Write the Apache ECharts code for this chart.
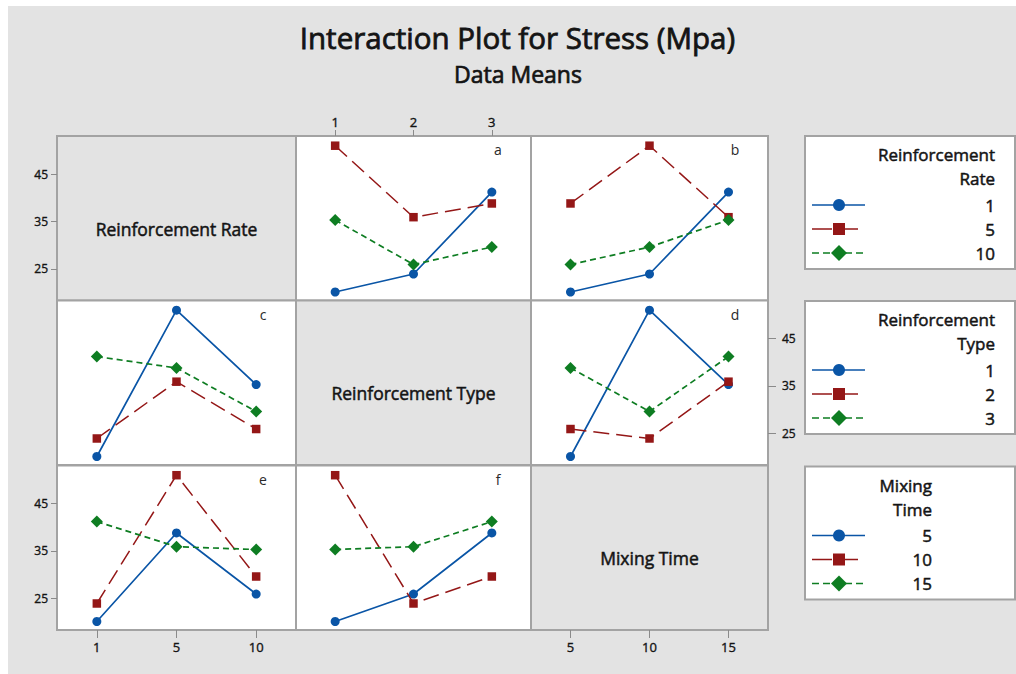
<!DOCTYPE html>
<html>
<head>
<meta charset="utf-8">
<script src="https://cdn.jsdelivr.net/npm/echarts@6/dist/echarts.min.js"></script>
<style>
  html, body { margin: 0; padding: 0; background: #ffffff; }
  #chart { width: 1016px; height: 674px; }
</style>
</head>
<body>
<div id="chart"></div>
<script>
// L9 experiment: factor levels of each run and the measured stress (MPa)
const runRate   = [1, 1, 1, 5, 5, 5, 10, 10, 10];
const runType   = [1, 2, 3, 1, 2, 3, 1, 2, 3];
const runMixing = [5, 10, 15, 10, 15, 5, 15, 5, 10];
const runStress = [20.1, 23.9, 41.2, 51.0, 35.9, 38.8, 35.3, 25.9, 29.6];

// factor levels (x categories / trace levels)
const rateLevels   = [1, 5, 10];
const typeLevels   = [1, 2, 3];
const mixingLevels = [5, 10, 15];

// y tick labels shared by every row
const yTicks = [25, 35, 45];

const FONT = '"Open Sans", "Noto Sans", sans-serif';
const INK = '#141414';
const FRAME = '#a3a3a3';
const PANEL_GRAY = '#e3e3e3';

const factors = [
  { title: 'Reinforcement Rate', legend: ['Reinforcement', 'Rate'], levels: rateLevels, runs: runRate },
  { title: 'Reinforcement Type', legend: ['Reinforcement', 'Type'], levels: typeLevels, runs: runType },
  { title: 'Mixing Time',        legend: ['Mixing', 'Time'],        levels: mixingLevels, runs: runMixing }
];

// trace styles for level 1/2/3 of the trace factor
const traceStyles = [
  { color: '#0a55a6', symbol: 'circle',  size: 9,   dash: 'solid',  width: 1.7, keyDash: null,    keyEnd: 865 },
  { color: '#941717', symbol: 'rect',    size: 8.5, dash: [16, 7],  width: 1.5, keyDash: [20, 6], keyEnd: 860 },
  { color: '#0e7d22', symbol: 'diamond', size: 12,  dash: [6, 4],   width: 1.7, keyDash: [7, 4],  keyEnd: 865 }
];

// panel matrix geometry
const colLeft = [57, 296, 531];
const colWidth = [239, 235, 237];
const rowTop = [136, 300.5, 465.5];
const rowHeight = 164.5;
const yMin = 18.3, yMax = 53.05;

const panelLetters = { '0,1': 'a', '0,2': 'b', '1,0': 'c', '1,2': 'd', '2,0': 'e', '2,1': 'f' };

// mean stress of runs at (level a of factor fa, level b of factor fb)
function cellMean(fa, a, fb, b) {
  let sum = 0, n = 0;
  for (let k = 0; k < runStress.length; k++) {
    if (fa.runs[k] === a && fb.runs[k] === b) { sum += runStress[k]; n++; }
  }
  return n ? +(sum / n).toFixed(2) : null;
}

// medium-weight text: regular face with a hairline outline in the same ink
function label(x, y, text, size, align, weight) {
  return {
    type: 'text', z: 100, x: x, y: y,
    style: {
      text: text, font: size + 'px ' + FONT, fill: INK,
      stroke: INK, lineWidth: weight,
      textAlign: align, textVerticalAlign: 'middle'
    }
  };
}

const grids = [], xAxes = [], yAxes = [], series = [], graphics = [];

for (let r = 0; r < 3; r++) {
  for (let c = 0; c < 3; c++) {
    const i = r * 3 + c;
    const diag = r === c;
    grids.push({
      left: colLeft[c], top: rowTop[r], width: colWidth[c], height: rowHeight,
      show: true, backgroundColor: diag ? PANEL_GRAY : '#ffffff',
      borderColor: FRAME, borderWidth: 2
    });

    const xTop = r === 0 && c === 1;
    const showX = xTop || (r === 2 && c === 0) || (r === 2 && c === 2);
    xAxes.push({
      gridIndex: i, type: 'category', boundaryGap: true,
      data: factors[c].levels.map(String),
      position: xTop ? 'top' : 'bottom',
      axisLine: { show: false },
      axisTick: { show: showX, alignWithLabel: true, length: xTop ? 6 : 8, lineStyle: { color: '#8a8a8a', width: 1 } },
      axisLabel: { show: showX, margin: xTop ? 8 : 10, fontSize: 13, color: INK, fontFamily: FONT,
                   textBorderColor: INK, textBorderWidth: 0.35 },
      splitLine: { show: false }
    });

    const yRight = r === 1 && c === 2;
    const showY = yRight || (c === 0 && r !== 1);
    yAxes.push({
      gridIndex: i, type: 'value', min: yMin, max: yMax,
      position: yRight ? 'right' : 'left',
      axisLine: { show: false },
      axisTick: { show: showY, customValues: yTicks, length: yRight ? 8 : 6, lineStyle: { color: '#8a8a8a', width: 1 } },
      axisLabel: { show: showY, customValues: yTicks, margin: yRight ? 14 : 9, fontSize: 12, color: INK, fontFamily: FONT,
                   textBorderColor: INK, textBorderWidth: 0.35 },
      splitLine: { show: false }
    });

    const cx = colLeft[c] + colWidth[c] / 2;
    const cy = rowTop[r] + rowHeight / 2;
    if (diag) {
      graphics.push(label(cx, cy + 10.5, factors[r].title, 17.5, 'center', 0.5));
      continue;
    }

    graphics.push({
      type: 'text', z: 100, x: colLeft[c] + colWidth[c] - 33, y: rowTop[r] + 13.5,
      style: { text: panelLetters[r + ',' + c], font: '14px ' + FONT, fill: '#2a2a2a', textAlign: 'center', textVerticalAlign: 'middle' }
    });

    const traceF = factors[r], xF = factors[c];
    traceF.levels.forEach((lvl, li) => {
      const st = traceStyles[li];
      series.push({
        type: 'line', xAxisIndex: i, yAxisIndex: i,
        name: traceF.title + ' ' + lvl,
        data: xF.levels.map(x => cellMean(traceF, lvl, xF, x)),
        symbol: st.symbol, symbolSize: st.size, showSymbol: true,
        itemStyle: { color: st.color },
        lineStyle: { color: st.color, width: st.width, type: st.dash },
        z: 3 + li, silent: true, animation: false
      });
    });
  }
}

// legend boxes on the right, one per trace factor
const legendTop = [136, 301, 466.5];
const legendTextRight = [995, 995, 932];
factors.forEach((f, r) => {
  const top = legendTop[r];
  graphics.push({
    type: 'rect', z: 50, shape: { x: 805, y: top, width: 210, height: 133 },
    style: { fill: '#ffffff', stroke: FRAME, lineWidth: 2 }
  });
  f.legend.forEach((line, k) => {
    graphics.push(label(legendTextRight[r], top + 18.5 + k * 24, line, 17, 'right', 0.5));
  });
  f.levels.forEach((lvl, li) => {
    const st = traceStyles[li];
    const y = top + 69 + li * 24;
    graphics.push({
      type: 'line', z: 100, shape: { x1: 812, y1: y, x2: st.keyEnd, y2: y },
      style: { stroke: st.color, lineWidth: st.width, lineDash: st.keyDash }
    });
    if (st.symbol === 'circle') {
      graphics.push({ type: 'circle', z: 101, shape: { cx: 839, cy: y, r: 6 }, style: { fill: st.color } });
    } else if (st.symbol === 'rect') {
      graphics.push({ type: 'rect', z: 101, shape: { x: 833, y: y - 6, width: 12, height: 12 }, style: { fill: st.color } });
    } else {
      graphics.push({ type: 'polygon', z: 101, shape: { points: [[839, y - 8], [847, y], [839, y + 8], [831, y]] }, style: { fill: st.color } });
    }
    graphics.push(label(legendTextRight[r], y, String(lvl), 17, 'right', 0.5));
  });
});

// titles
graphics.push(label(517.5, 37, 'Interaction Plot for Stress (Mpa)', 29.5, 'center', 0.8));
graphics.push(label(518, 73.5, 'Data Means', 23, 'center', 0.7));

// thin white margins along the top and left edges
graphics.push({ type: 'rect', z: 0, shape: { x: 0, y: 0, width: 1016, height: 6 }, style: { fill: '#ffffff' } });
graphics.push({ type: 'rect', z: 0, shape: { x: 0, y: 0, width: 8, height: 674 }, style: { fill: '#ffffff' } });

const chart = echarts.init(document.getElementById('chart'), null, { renderer: 'svg', width: 1016, height: 674 });
chart.setOption({
  animation: false,
  backgroundColor: PANEL_GRAY,
  grid: grids,
  xAxis: xAxes,
  yAxis: yAxes,
  series: series,
  graphic: { elements: graphics }
});
</script>
</body>
</html>
